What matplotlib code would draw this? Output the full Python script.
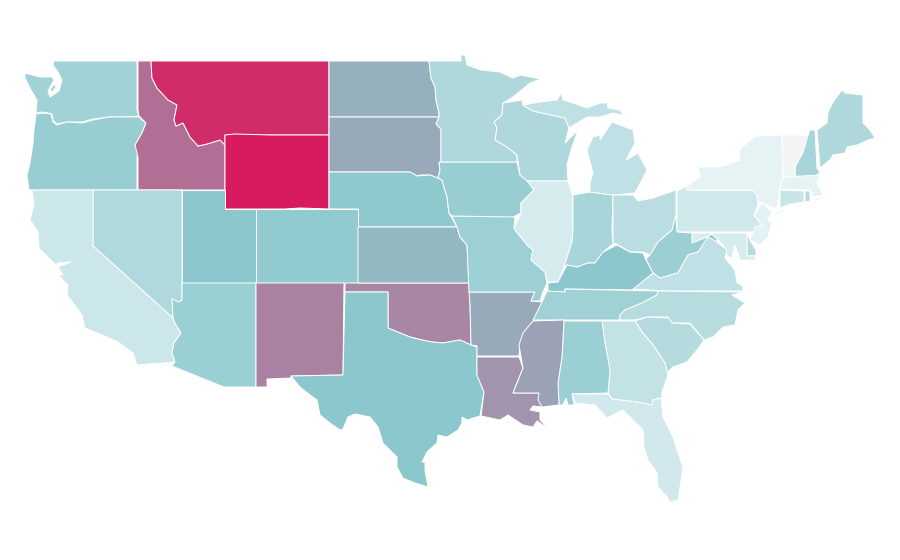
import matplotlib
matplotlib.use("Agg")
import matplotlib.pyplot as plt
from matplotlib.colors import LinearSegmentedColormap

# outlines, in picture pixels
WA = [(54,61),(137,61),(137,110),(139,116),(125,117),(109,117),(93,119),(82,122),(67,122),(57,124),(53,120),(52,114),(43,112),(36,113),(37,100),(31,90),(25,78),(25,73),(40,77),(52,77),(54,80),(48,91),(50,97),(59,91),(62,80),(58,72),(53,65)]
WA_ISLE = [(54,84),(56,87),(52,92),(50,90)]
OR = [(36,114),(43,113),(51,114),(53,122),(57,125),(67,122),(82,123),(93,120),(109,117),(139,117),(146,123),(142,133),(135,145),(139,150),(137,157),(137,190),(29,190),(27,175),(30,163),(33,143),(34,130)]
ID = [(138,61),(151,61),(152,78),(157,88),(168,100),(177,105),(174,120),(176,126),(183,123),(190,137),(198,146),(207,144),(220,140),(225,145),(225,190),(138,190),(138,157),(135,145),(142,133),(146,123),(139,116),(138,110)]
MT = [(151,61),(329,61),(329,135),(225,135),(225,145),(220,140),(207,144),(198,146),(190,137),(183,123),(176,126),(174,120),(177,105),(168,100),(157,88),(152,78)]
WY = [(225,135),(235,134),(270,135),(329,135),(329,209),(300,208),(285,209),(225,209)]
ND = [(329,61),(429,61),(431,78),(435,87),(436,100),(439,113),(439,117),(329,117)]
SD = [(329,117),(439,117),(436,124),(441,129),(441,163),(439,163),(440,170),(438,178),(430,175),(420,175),(417,176),(410,172),(329,172)]
NE = [(329,172),(410,172),(417,176),(430,175),(438,178),(442,180),(447,197),(449,213),(457,227),(358,227),(358,209),(329,209)]
CO = [(256,209),(358,209),(358,283),(256,283)]
UT = [(182,190),(225,190),(225,209),(256,209),(256,283),(182,283)]
NV = [(93,190),(182,190),(182,300),(179,302),(172,299),(173,318),(93,246)]
CA = [(32,190),(93,190),(93,246),(173,318),(175,323),(181,333),(174,343),(172,353),(175,362),(137,365),(133,353),(118,342),(102,335),(85,328),(82,315),(67,295),(68,285),(58,275),(63,275),(58,267),(71,262),(58,263),(56,265),(48,257),(39,248),(38,232),(30,220),(34,205)]
AZ = [(182,283),(256,283),(256,387),(224,387),(172,366),(175,362),(172,353),(174,343),(181,333),(175,323),(173,318),(172,299),(179,302),(182,300)]
NM = [(256,283),(344,283),(343,375),(291,376),(291,378),(267,379),(267,387),(256,387)]
OK = [(345,283),(469,283),(470,303),(471,345),(460,340),(443,343),(432,342),(422,340),(410,337),(400,333),(388,328),(388,292),(345,292)]
TX = [(345,292),(388,292),(388,328),(400,333),(410,337),(422,340),(432,342),(443,343),(460,340),(471,345),(477,347),(477,375),(484,392),(480,416),(467,420),(462,417),(462,423),(458,430),(447,437),(438,435),(437,443),(427,452),(422,462),(425,462),(425,470),(428,487),(415,483),(403,478),(397,467),(397,457),(383,443),(378,427),(370,417),(355,414),(348,417),(343,429),(340,430),(330,423),(320,415),(317,400),(310,395),(300,387),(291,376),(343,375)]
KS = [(358,227),(457,227),(460,237),(467,245),(469,283),(358,283)]
LA = [(477,357),(519,357),(523,368),(513,393),(539,393),(542,407),(533,406),(530,410),(540,412),(540,420),(549,429),(537,421),(533,427),(523,425),(508,415),(500,420),(481,416),(484,392),(477,375)]
AR = [(469,292),(535,292),(531,301),(542,302),(535,318),(520,343),(519,356),(477,356),(477,346),(471,345),(470,303)]
MO = [(452,216),(513,216),(515,218),(514,227),(515,230),(527,245),(533,250),(531,260),(545,272),(547,283),(543,292),(540,301),(531,301),(535,292),(469,292),(467,245),(460,237),(457,227)]
IA = [(439,162),(517,162),(520,175),(527,178),(534,190),(521,203),(521,213),(513,217),(452,216),(449,213),(447,197),(442,180),(438,178),(440,170)]
MN = [(429,61),(461,61),(461,55),(465,55),(467,65),(481,70),(500,72),(513,78),(520,75),(541,79),(530,83),(513,97),(503,103),(502,115),(494,122),(497,128),(495,140),(507,147),(517,155),(517,162),(441,162),(441,129),(436,124),(439,117),(439,113),(436,100),(435,87),(431,78)]
WI = [(503,103),(522,100),(523,105),(533,111),(565,118),(569,128),(565,143),(578,130),(572,147),(567,165),(568,181),(527,181),(520,175),(517,155),(507,147),(495,140),(497,128),(494,122),(502,115)]
IL = [(527,181),(568,181),(573,197),(573,230),(572,242),(564,267),(558,282),(547,282),(545,272),(531,260),(533,250),(527,245),(515,230),(514,227),(521,213),(521,203),(534,190)]
IN = [(573,195),(590,192),(613,195),(612,230),(613,244),(603,252),(595,263),(588,263),(577,267),(567,265),(564,267),(572,242),(573,230)]
MI_LOWER = [(600,140),(612,122),(633,130),(635,143),(626,160),(638,153),(647,170),(635,193),(613,195),(590,192),(590,183),(593,173),(587,150),(593,137),(600,135)]
MI_UPPER = [(533,111),(523,105),(540,102),(557,100),(560,95),(568,90),(562,95),(563,100),(573,103),(587,108),(600,103),(607,103),(608,108),(620,110),(623,115),(613,113),(600,117),(587,117),(569,128),(565,118)]
OH = [(613,195),(633,195),(638,201),(653,198),(676,190),(676,215),(672,230),(658,242),(650,255),(643,252),(630,252),(615,243),(613,244)]
PA = [(677,191),(687,186),(687,190),(752,190),(757,195),(758,205),(754,215),(762,225),(755,232),(677,232)]
NY = [(687,186),(700,177),(698,167),(720,167),(740,160),(739,150),(755,136),(782,135),(783,177),(780,189),(777,207),(773,208),(758,201),(757,195),(752,190),(687,190)]
NY_LI = [(773,213),(803,205),(790,209),(775,215)]
VT = [(782,135),(808,135),(803,152),(795,167),(795,177),(783,177)]
NH = [(810,130),(815,130),(817,168),(820,173),(813,177),(795,177),(795,167),(803,152),(808,135)]
ME = [(817,130),(827,123),(828,112),(833,102),(842,90),(845,93),(863,95),(863,123),(870,130),(875,138),(868,140),(857,145),(847,147),(845,153),(833,155),(830,160),(820,168)]
MA = [(783,177),(820,175),(817,183),(823,195),(813,197),(811,190),(780,189)]
MA_CAPE = [(813,199),(830,196),(815,201)]
CT = [(780,190),(804,191),(804,202),(790,204),(780,208)]
RI = [(805,191),(810,191),(810,201),(805,202)]
NJ = [(762,203),(772,212),(768,220),(772,222),(768,237),(760,245),(750,240),(755,227),(762,225),(754,215)]
DE = [(747,232),(750,240),(756,250),(756,256),(747,256)]
MD = [(692,233),(747,233),(747,256),(756,256),(755,260),(740,260),(735,245),(732,258),(728,257),(723,245),(712,234),(707,237),(692,243)]
WV = [(676,215),(677,232),(692,233),(692,243),(707,237),(712,234),(718,240),(698,252),(688,255),(678,273),(660,278),(653,273),(646,259),(650,255),(658,242),(672,230)]
VA = [(633,289),(653,273),(660,278),(678,273),(688,255),(698,252),(708,237),(717,242),(727,250),(725,258),(735,270),(737,283),(743,286),(743,291),(667,291)]
KY = [(548,292),(565,292),(565,289),(632,290),(653,273),(646,260),(643,253),(630,252),(617,245),(603,252),(595,263),(588,263),(577,267),(567,265),(558,282),(548,283)]
TN = [(547,291),(565,292),(565,289),(658,291),(657,295),(642,303),(625,310),(620,315),(620,320),(533,320),(542,302)]
NC = [(658,291),(743,292),(732,295),(745,303),(738,310),(735,325),(723,327),(713,337),(704,340),(690,323),(672,323),(668,317),(647,317),(635,320),(620,320),(620,315),(625,310),(642,303),(657,295)]
SC = [(635,321),(647,317),(669,318),(672,323),(690,324),(704,340),(697,350),(687,362),(673,367),(667,373),(665,363),(653,345),(642,332)]
GA = [(602,321),(635,321),(642,332),(653,345),(665,363),(668,375),(662,392),(662,398),(653,400),(652,405),(637,402),(612,399),(608,393),(610,370),(605,343)]
AL = [(564,321),(602,321),(605,343),(610,370),(608,393),(572,394),(574,405),(568,405),(566,398),(563,405),(559,405),(558,383),(562,357)]
MS = [(533,321),(564,320),(562,357),(558,383),(559,405),(542,407),(538,400),(539,393),(513,393),(523,368),(519,345),(523,333)]
FL = [(572,394),(608,394),(612,399),(637,402),(652,405),(653,400),(661,398),(663,417),(673,437),(683,468),(678,500),(670,502),(667,497),(658,487),(657,473),(648,460),(644,447),(643,430),(633,420),(623,410),(607,418),(595,405),(575,403)]

states = [WA, WA_ISLE, OR, ID, MT, WY, ND, SD, NE, CO, UT, NV, CA, AZ, NM, OK, TX, KS, LA, AR, MO, IA, MN, WI, IL, IN,
          MI_LOWER, MI_UPPER, OH, PA, NY, NY_LI, NH, ME, MA, MA_CAPE, CT, RI, NJ, DE, MD, WV, VA, KY, TN, NC, SC, GA, AL, MS, FL]
values = [26.4, 26.4, 29.9, 68, 93.5, 100, 43, 46, 33.4, 32.7, 35, 21, 10.1, 29.2, 61, 59, 35, 41, 54, 46, 28, 29.9, 21.4, 21.4, 6.6, 24.1,
          15.2, 15.2, 17.5, 8.6, 0, 0, 24.1, 21.4, 0, 0, 12, 18.7, 0.8, 18.7, 6.2, 28.8, 15.2, 35, 27.2, 18.7, 19, 13.6, 29.2, 49, 8.2]

# Vermont has no value in the source, it stays grey
no_data = [VT]
no_data_color = "#f3f4f6"

cmap = LinearSegmentedColormap.from_list("teal_pink", [(0, "#e5f3f5"), (0.35, "#8bc7cc"), (1, "#d81b60")])

fig = plt.figure(figsize=(9, 5.6), dpi=100)
ax = fig.add_axes([0, 0, 1, 1])
for outline, value in zip(states, values):
    xs, ys = zip(*outline)
    ax.fill(xs, ys, facecolor=cmap(value / 100), edgecolor="white", linewidth=0.7)
for outline in no_data:
    xs, ys = zip(*outline)
    ax.fill(xs, ys, facecolor=no_data_color, edgecolor="white", linewidth=0.7)

ax.set_xlim(0, 900)
ax.set_ylim(560, 0)
ax.axis("off")
fig.savefig("out.png", dpi=100)
